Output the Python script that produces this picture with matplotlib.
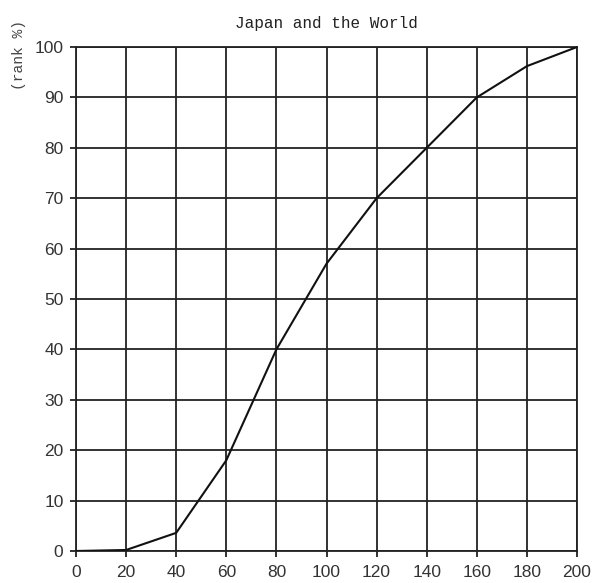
import matplotlib
matplotlib.use("Agg")
import matplotlib.pyplot as plt

x_values = [0, 20, 40, 60, 80, 100, 120, 140, 160, 180, 200]
rank_pct = [0, 0.2, 3.6, 18, 40, 57, 70, 80, 90, 96.2, 100]
x_ticks = list(range(0, 201, 20))
y_ticks = list(range(0, 101, 10))
title = "Japan and the World"
ylabel = "(rank %)"

fig = plt.figure(figsize=(5.95, 5.83), dpi=100)
ax = fig.add_axes([76/595, 32/583, 501/595, 504/583])

ax.plot(x_values, rank_pct, color="#111111", linewidth=1.5, zorder=3)
ax.set_xlim(0, 200)
ax.set_ylim(0, 100)
ax.set_xticks(x_ticks)
ax.set_yticks(y_ticks)
ax.grid(True, color="#222222", linewidth=1.3)
for s in ax.spines.values():
    s.set_color("#222222")
    s.set_linewidth(1.3)
ax.tick_params(length=4, width=1.3, color="#222222", labelsize=12.5, labelcolor="#333333", pad=5)
ax.tick_params(axis="x", pad=6)
for lab in ax.get_xticklabels() + ax.get_yticklabels():
    lab.set_family(["Liberation Sans Narrow", "Liberation Sans", "DejaVu Sans"])

ax.set_title(title, family=["Liberation Mono", "DejaVu Sans Mono"], fontsize=11.5, color="#222222", pad=14)
ax.set_ylabel(ylabel, family=["Liberation Mono", "DejaVu Sans Mono"], fontsize=10.5, color="#444444")
ax.yaxis.set_label_coords(-0.1, 0.985)

fig.savefig("out.png", dpi=100)
